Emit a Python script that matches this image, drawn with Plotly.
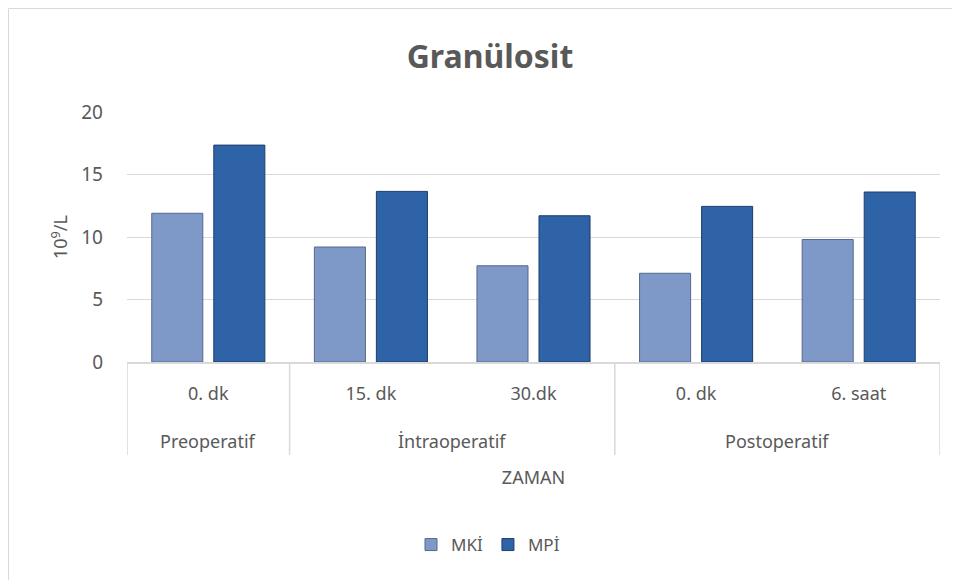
import plotly.graph_objects as go

phases = ["Preoperatif", "İntraoperatif", "İntraoperatif", "Postoperatif", "Postoperatif"]
times = ["0. dk", "15. dk", "30.dk", "0. dk", "6. saat"]
mki = [11.9, 9.2, 7.7, 7.1, 9.8]
mpi = [17.35, 13.65, 11.7, 12.45, 13.6]

pos = list(range(len(times)))

L, R, T, B = 119, 28, 104, 226
W, H = 960, 580
pw, ph = W - L - R, H - T - B
axis_y = T + ph


def py(y_px):
    return (axis_y - y_px) / ph


def px(x_px):
    return (x_px - L) / pw


GRAY = "#595959"
LINE = "#d9d9d9"
font_family = "Noto Sans"

fig = go.Figure()
fig.add_trace(go.Bar(
    name="MKİ", x=pos, y=mki,
    marker=dict(color="#7e98c7", line=dict(color="#56698c", width=1)),
))
fig.add_trace(go.Bar(
    name="MPİ", x=pos, y=mpi,
    marker=dict(color="#2f63a8", line=dict(color="#1e3d6a", width=1)),
))

fig.update_layout(
    width=W, height=H,
    margin=dict(l=L, r=R, t=T, b=B),
    paper_bgcolor="white", plot_bgcolor="white",
    barmode="group", bargap=0.237, bargroupgap=0.177,
    title=dict(text="<b>Granülosit</b>", x=482 / W, xanchor="center",
               y=1 - 49 / H, yanchor="middle",
               font=dict(family=font_family, size=32, color=GRAY)),
    font=dict(family=font_family, color=GRAY),
    legend=dict(orientation="h", x=px(480), xanchor="center",
                y=py(537), yanchor="middle",
                font=dict(size=17, color=GRAY), itemwidth=30),
    showlegend=True,
)
fig.update_yaxes(
    range=[0, 20], tickvals=[0, 5, 10, 15, 20],
    showgrid=True, gridcolor=LINE, gridwidth=1,
    zeroline=False, showline=False,
    tickfont=dict(size=19, color=GRAY), ticks="", ticklabelstandoff=23,
    title=dict(text="10<sup>9</sup>/L", font=dict(size=18, color=GRAY), standoff=8),
)
fig.update_xaxes(
    range=[-0.5, len(times) - 0.5],
    tickvals=pos, ticktext=times,
    showline=True, linecolor=LINE, linewidth=1.5,
    showgrid=False, zeroline=False, ticks="", ticklabelstandoff=15,
    tickfont=dict(size=18, color=GRAY),
    title=dict(text="ZAMAN", font=dict(size=18, color=GRAY), standoff=67),
)

# second-level category labels (phase groups) and group dividers
groups = []
for i, p in enumerate(phases):
    if groups and groups[-1][0] == p:
        groups[-1][2] = i
    else:
        groups.append([p, i, i])
edges = [-0.5] + [g[2] + 0.5 for g in groups]
for e in edges:
    fig.add_shape(type="line", xref="x", yref="paper", x0=e, x1=e,
                  y0=py(axis_y), y1=py(447), line=dict(color=LINE, width=1.5))
for name, a, b in groups:
    fig.add_annotation(text=name, xref="x", yref="paper", x=(a + b) / 2, y=py(433),
                       showarrow=False, yanchor="middle",
                       font=dict(size=18, color=GRAY, family=font_family))

# chart outer border
fig.add_shape(type="rect", xref="paper", yref="paper",
              x0=px(0.5), x1=px(947), y0=py(576), y1=py(0.5),
              line=dict(color=LINE, width=1), layer="below")
fig.write_html("out.html")
